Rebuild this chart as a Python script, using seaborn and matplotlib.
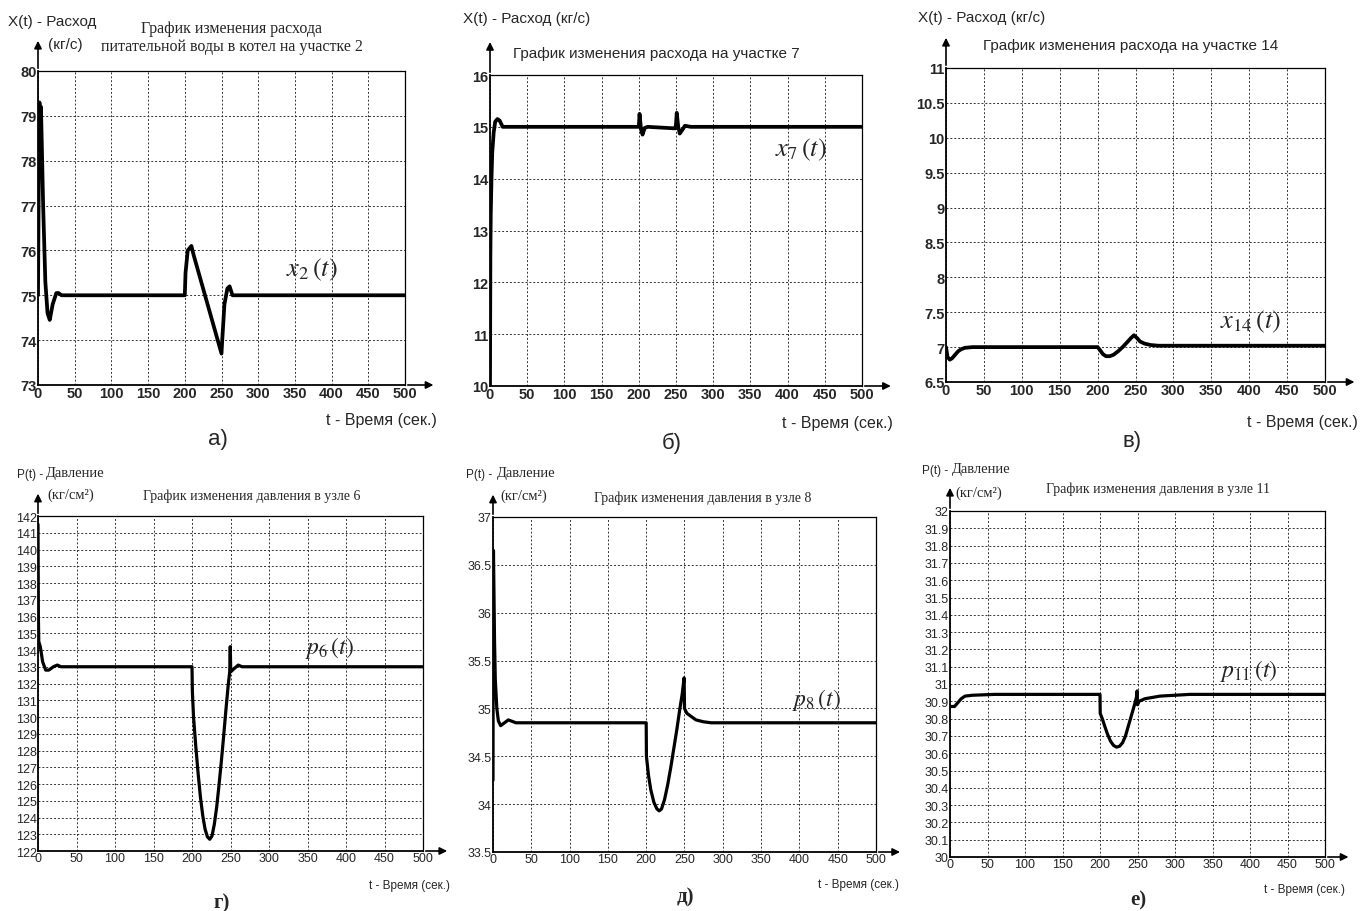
import numpy as np
import matplotlib
matplotlib.use('Agg')
import matplotlib.pyplot as plt
import seaborn as sns

# ---- data ----
t_x2 = [0, 1, 2, 3, 4, 5, 7, 10, 13, 16, 20, 25, 28, 32, 200, 201, 204, 209, 212,
        250, 251, 254, 258, 261, 265, 270, 500]
x2 = [75.0, 77.5, 79.3, 78.2, 79.2, 78.5, 77.0, 75.3, 74.6, 74.45, 74.8, 75.05, 75.05, 75.0,
      75.0, 75.5, 76.0, 76.1, 75.9, 73.7, 74.0, 74.8, 75.15, 75.2, 75.0, 75.0, 75.0]

t_x7 = [0, 0.5, 1, 2, 3, 5, 7, 10, 13, 17, 20, 30, 199, 200, 201, 203, 205, 208, 212,
        249, 250, 251, 253, 255, 258, 262, 270, 500]
x7 = [10.0, 12.5, 13.3, 14.0, 14.5, 14.9, 15.1, 15.15, 15.12, 15.0, 15.0, 15.0, 15.0, 15.0,
      15.25, 14.95, 14.85, 14.98, 15.0, 14.97, 15.05, 15.27, 15.0, 14.87, 14.93, 15.02, 15.0, 15.0]

t_x14 = [0, 2, 5, 8, 12, 16, 20, 25, 35, 200, 203, 207, 211, 216, 221, 227, 233, 239, 244,
         248, 252, 256, 262, 270, 280, 500]
x14 = [7.0, 6.86, 6.82, 6.84, 6.89, 6.94, 6.97, 6.99, 7.0, 7.0, 6.96, 6.9, 6.87, 6.87, 6.89,
       6.94, 7.0, 7.07, 7.13, 7.17, 7.13, 7.08, 7.05, 7.03, 7.02, 7.02]

t_p6 = [0, 0.5, 1, 3, 6, 10, 14, 20, 25, 30, 200, 200.5, 202, 205, 208, 211, 214, 217, 220,
        223, 226, 229, 232, 235, 238, 241, 244, 247, 249, 249.7, 250.3, 255, 260, 265, 500]
p6 = [141.5, 136.0, 134.5, 134.2, 133.3, 132.8, 132.8, 133.0, 133.1, 133.0, 133.0, 131.5,
      130.0, 128.2, 126.6, 125.2, 124.1, 123.3, 122.85, 122.7, 122.9, 123.6, 124.6, 125.9,
      127.3, 128.8, 130.4, 131.9, 132.7, 134.2, 132.7, 132.9, 133.1, 133.0, 133.0]

t_p8 = [0, 0.3, 0.6, 2, 3, 5, 7, 10, 15, 20, 30, 200, 200.3, 203, 206, 210, 214, 217, 220,
        224, 228, 232, 236, 240, 244, 247, 249.5, 250, 253, 258, 265, 275, 285, 500]
p8 = [34.25, 36.3, 36.65, 35.7, 35.3, 35.0, 34.87, 34.82, 34.85, 34.88, 34.85, 34.85, 34.5,
      34.3, 34.15, 34.02, 33.95, 33.93, 33.95, 34.05, 34.2, 34.38, 34.58, 34.78, 35.0, 35.15,
      35.32, 35.0, 34.95, 34.92, 34.88, 34.86, 34.85, 34.85]

t_p11 = [0, 6, 10, 15, 20, 30, 60, 200, 200.3, 203, 206, 210, 214, 218, 222, 226, 230, 234,
         238, 242, 246, 249, 249.5, 250, 252, 260, 280, 320, 500]
p11 = [30.87, 30.87, 30.89, 30.915, 30.93, 30.935, 30.94, 30.94, 30.83, 30.8, 30.76, 30.71,
       30.67, 30.645, 30.635, 30.64, 30.66, 30.7, 30.76, 30.82, 30.88, 30.93, 30.96, 30.88,
       30.9, 30.915, 30.93, 30.94, 30.94]

x_ticks = list(range(0, 501, 50))
y_ticks_x2 = list(range(73, 81))
y_ticks_x7 = list(range(10, 17))
y_ticks_x14 = list(np.round(np.arange(6.5, 11.01, 0.5), 1))
y_ticks_p6 = list(range(122, 143))
y_ticks_p8 = list(np.round(np.arange(33.5, 37.01, 0.5), 1))
y_ticks_p11 = list(np.round(np.arange(30.0, 32.001, 0.1), 1))

sns.set_theme(style='white')
plt.rcParams['font.family'] = ['Liberation Sans', 'DejaVu Sans']
plt.rcParams['mathtext.fontset'] = 'stix'

W, H = 1371, 912
fig = plt.figure(figsize=(W / 100, H / 100), dpi=100)


def px(x, y):
    return x / W, 1 - y / H


def panel(rect, t, v, yticks, bold, tick_fs, arrow_top, arrow_right, lw):
    l, t_, r, b = rect
    ax = fig.add_axes([l / W, 1 - b / H, (r - l) / W, (b - t_) / H])
    sns.lineplot(x=t, y=v, ax=ax, color='black', lw=lw, estimator=None, sort=False)
    ax.set_xlim(0, 500)
    ax.set_ylim(yticks[0], yticks[-1])
    ax.set_xticks(x_ticks)
    ax.set_yticks(yticks)
    ax.set_yticklabels(['%g' % y for y in yticks])
    ax.grid(True, linestyle=(0, (2, 2)), color='#333333', lw=0.7)
    ax.tick_params(length=0, pad=1, labelsize=tick_fs)
    for lab in ax.get_xticklabels() + ax.get_yticklabels():
        lab.set_fontweight('bold' if bold else 'normal')
    for s in ax.spines.values():
        s.set_color('black')
        s.set_linewidth(0.9)
    ax.spines['left'].set_linewidth(1.3)
    ax.spines['bottom'].set_linewidth(1.3)
    ax.set_xlabel('')
    ax.set_ylabel('')
    ap = dict(arrowstyle='-|>', color='black', lw=1.2, mutation_scale=11)
    ax.annotate('', xy=(0, arrow_top), xytext=(0, 1), xycoords='axes fraction',
                arrowprops=ap, annotation_clip=False)
    ax.annotate('', xy=(arrow_right, 0), xytext=(1, 0), xycoords='axes fraction',
                arrowprops=ap, annotation_clip=False)
    return ax


def txt(x, y, s, **kw):
    fx, fy = px(x, y)
    fig.text(fx, fy, s, **kw)


serif = ['Liberation Serif', 'DejaVu Serif']

# ---- top row ----
panel((38, 72, 405, 386), t_x2, x2, y_ticks_x2, True, 10.5, 1.105, 1.085, 2.7)
txt(8, 22, 'X(t) - Расход', fontsize=11, va='center')
txt(48, 45, '(кг/с)', fontsize=11, va='center')
txt(232, 38, 'График изменения расхода\nпитательной воды в котел на участке 2',
    family=serif, fontsize=11.5, ha='center', va='center', linespacing=1.15)
txt(286, 270, r'$x_2\,(t)$', fontsize=19, va='center')
txt(437, 421, 't - Время (сек.)', fontsize=11.5, ha='right', va='center')
txt(218, 440, 'а)', fontsize=16, ha='center', va='center')

panel((490, 76, 862, 387), t_x7, x7, y_ticks_x7, True, 10.5, 1.115, 1.085, 2.7)
txt(463, 19, 'X(t) - Расход (кг/с)', fontsize=11, va='center')
txt(513, 54, 'График изменения расхода на участке 7', fontsize=11, va='center')
txt(775, 150, r'$x_7\,(t)$', fontsize=19, va='center')
txt(893, 424, 't - Время (сек.)', fontsize=11.5, ha='right', va='center')
txt(672, 443, 'б)', fontsize=16, ha='center', va='center')

panel((946, 69, 1325, 383), t_x14, x14, y_ticks_x14, True, 10.5, 1.105, 1.085, 2.7)
txt(918, 18, 'X(t) - Расход (кг/с)', fontsize=11, va='center')
txt(983, 46, 'График изменения расхода на участке 14', fontsize=11, va='center')
txt(1220, 322, r'$x_{14}\,(t)$', fontsize=19, va='center')
txt(1358, 422, 't - Время (сек.)', fontsize=11.5, ha='right', va='center')
txt(1132, 442, 'в)', fontsize=16, ha='center', va='center')

# ---- bottom row ----
panel((38, 517, 423, 852), t_p6, p6, y_ticks_p6, False, 9, 1.075, 1.07, 2.3)
txt(17, 475, 'P(t) - ', fontsize=8.5, va='center')
txt(46, 474, 'Давление', family=serif, fontsize=10.5, va='center')
txt(47, 495, '(кг/см²)', family=serif, fontsize=10.5, va='center')
txt(252, 496, 'График изменения давления в узле 6', family=serif, fontsize=10,
    ha='center', va='center')
txt(305, 648, r'$p_6\,(t)$', fontsize=17, va='center')
txt(450, 886, 't - Время (сек.)', fontsize=8.5, ha='right', va='center')
txt(222, 903, 'г)', family=serif, fontsize=15, weight='bold', ha='center', va='center')

panel((493, 518, 876, 853), t_p8, p8, y_ticks_p8, False, 9, 1.075, 1.07, 2.3)
txt(466, 475, 'P(t) - ', fontsize=8.5, va='center')
txt(497, 474, 'Давление', family=serif, fontsize=10.5, va='center')
txt(500, 496, '(кг/см²)', family=serif, fontsize=10.5, va='center')
txt(703, 498, 'График изменения давления в узле 8', family=serif, fontsize=10,
    ha='center', va='center')
txt(792, 700, r'$p_8\,(t)$', fontsize=17, va='center')
txt(899, 885, 't - Время (сек.)', fontsize=8.5, ha='right', va='center')
txt(685, 897, 'д)', family=serif, fontsize=15, weight='bold', ha='center', va='center')

panel((950, 512, 1325, 858), t_p11, p11, y_ticks_p11, False, 9, 1.075, 1.07, 2.3)
txt(922, 471, 'P(t) - ', fontsize=8.5, va='center')
txt(952, 470, 'Давление', family=serif, fontsize=10.5, va='center')
txt(955, 493, '(кг/см²)', family=serif, fontsize=10.5, va='center')
txt(1158, 489, 'График изменения давления в узле 11', family=serif, fontsize=10,
    ha='center', va='center')
txt(1220, 671, r'$p_{11}\,(t)$', fontsize=17, va='center')
txt(1345, 890, 't - Время (сек.)', fontsize=8.5, ha='right', va='center')
txt(1138, 900, 'е)', family=serif, fontsize=15, weight='bold', ha='center', va='center')

fig.savefig('out.png', dpi=100)
